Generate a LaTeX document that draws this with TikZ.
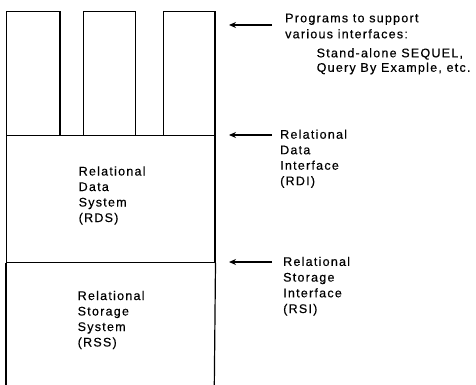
\documentclass[tikz,border=0pt]{standalone}
\usepackage{fontspec}
\setmainfont[LetterSpace=10,FakeBold=0.4]{Liberation Sans}
\usetikzlibrary{arrows.meta}
\begin{document}
\begin{tikzpicture}[x=1pt,y=-1pt,
  boxline/.style={line width=1.2pt},
  lbl/.style={inner sep=0pt,anchor=base west,align=left,font=\fontsize{12.5}{15.5}\selectfont},
  ptr/.style={line width=1.2pt,-{Stealth[length=7pt,width=6pt]}}]
\useasboundingbox (0,0) rectangle (476,385);
% program boxes
\node[boxline,draw,minimum width=53.3pt,minimum height=124.3pt,inner sep=0pt,anchor=north west] (p1) at (6,10.7) {};
\node[boxline,draw,minimum width=52.3pt,minimum height=124.3pt,inner sep=0pt,anchor=north west] (p2) at (82.7,10.7) {};
\node[boxline,draw,minimum width=51.6pt,minimum height=124.3pt,inner sep=0pt,anchor=north west] (p3) at (162.7,10.7) {};
% RDS box
\node[boxline,draw,minimum width=208.3pt,minimum height=126.7pt,inner sep=0pt,anchor=north west] (rds) at (6,135) {};
% RSS open box
\coordinate (rssBL) at (6,386);
\coordinate (rssBR) at (214.3,386);
\draw[boxline] (rds.south west) -- (rssBL);
\draw[boxline] (rds.south east) -- (rssBR);
% box texts (base = last line)
\node[lbl] (rdst) at (78.5,222) {Relational\\Data\\System\\(RDS)};
\node[lbl] (rsst) at (77.5,346.5) {Relational\\Storage\\System\\(RSS)};
% arrows
\coordinate (a1t) at (272,25);
\coordinate (a1h) at (229,25);
\coordinate (a2t) at (272,135);
\coordinate (a2h) at (229,135);
\coordinate (a3t) at (272,262);
\coordinate (a3h) at (229,262);
\draw[ptr] (a1t) -- (a1h);
\draw[ptr] (a2t) -- (a2h);
\draw[ptr] (a3t) -- (a3h);
% side texts
\node[lbl,font=\fontsize{12.5}{16}\selectfont] (prog) at (285,38.3) {Programs to support\\various interfaces:};
\node[lbl,font=\fontsize{12.5}{14.5}\selectfont] (ex) at (316.5,71.8) {Stand-alone SEQUEL,\\Query By Example, etc.};
\node[lbl] (rdi) at (280,185.2) {Relational\\Data\\Interface\\(RDI)};
\node[lbl,font=\fontsize{12.5}{15.7}\selectfont] (rsi) at (283,313) {Relational\\Storage\\Interface\\(RSI)};
\end{tikzpicture}
\end{document}
